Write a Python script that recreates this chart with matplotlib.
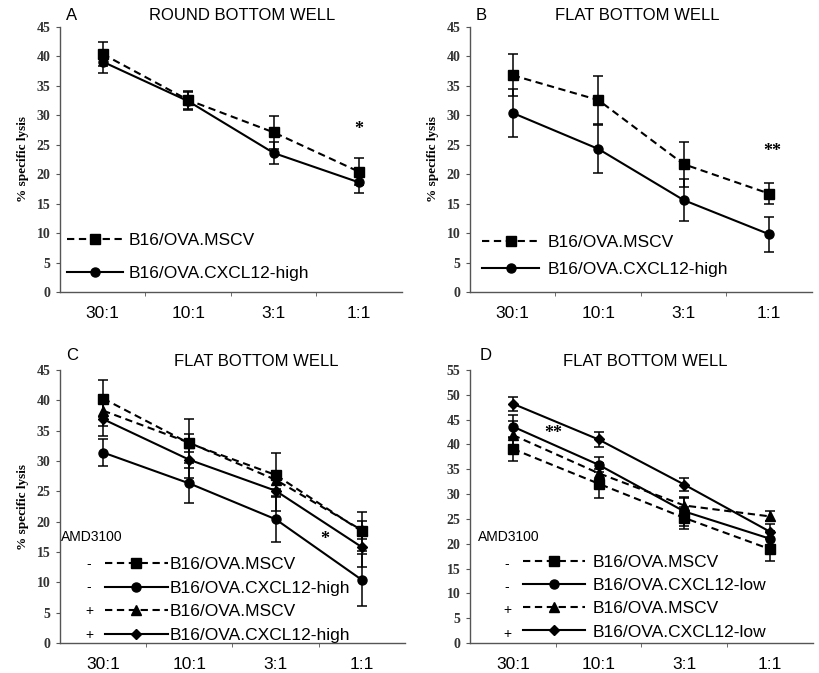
import matplotlib
matplotlib.use("Agg")
import matplotlib.pyplot as plt

W, H = 820, 673
plt.rcParams['font.family'] = ['Liberation Sans', 'DejaVu Sans']

ratios = ['30:1', '10:1', '3:1', '1:1']
xpos = [0.5, 1.5, 2.5, 3.5]

# panel A - round bottom well
a_mscv = [40.4, 32.6, 27.1, 20.4]
a_mscv_err = [2.1, 1.5, 2.8, 2.3]
a_high = [39.1, 32.4, 23.6, 18.6]
a_high_err = [1.9, 1.5, 1.8, 1.8]

# panel B - flat bottom well
b_mscv = [36.8, 32.6, 21.7, 16.7]
b_mscv_err = [3.6, 4.0, 3.8, 1.8]
b_high = [30.4, 24.3, 15.6, 9.8]
b_high_err = [4.0, 4.1, 3.6, 3.0]

# panel C - flat bottom well, AMD3100 -/+
c_mscv = [40.3, 32.9, 27.7, 18.4]
c_mscv_err = [3.1, 4.0, 3.7, 3.2]
c_high = [31.4, 26.3, 20.4, 10.4]
c_high_err = [2.3, 3.3, 3.8, 4.3]
c_mscv_amd = [38.3, 33.0, 26.9, 18.6]
c_mscv_amd_err = [2.5, 1.5, 1.5, 1.5]
c_high_amd = [36.9, 30.2, 25.1, 15.8]
c_high_amd_err = [2.8, 3.0, 3.3, 3.2]

# panel D - CXCL12-low, AMD3100 -/+
d_mscv = [39.1, 32.1, 25.2, 18.9]
d_mscv_err = [2.5, 2.9, 2.2, 2.3]
d_low = [43.6, 35.9, 26.5, 21.0]
d_low_err = [2.3, 1.5, 2.9, 1.5]
d_mscv_amd = [41.9, 34.2, 27.7, 25.5]
d_mscv_amd_err = [2.8, 2.0, 1.5, 1.0]
d_low_amd = [48.2, 41.0, 31.9, 22.4]
d_low_amd_err = [1.4, 1.5, 1.3, 1.5]


def frac(l, t, r, b):
    return [l / W, 1 - b / H, (r - l) / W, (b - t) / H]


def px(x, y):
    return x / W, 1 - y / H


DASH = (3.5, 2.2)
MARK = {'s': 7, 'o': 6.5, '^': 6.5, 'D': 5.5}


def series(ax, y, err, marker, dashed):
    ax.errorbar(xpos, y, yerr=err, fmt='none', ecolor='black',
                elinewidth=1.1, capsize=3.5, capthick=1.1, zorder=2)
    ln, = ax.plot(xpos, y, color='black', lw=1.5, marker=marker,
                  ms=MARK[marker], mfc='black', mec='black', zorder=3)
    if dashed:
        ln.set_dashes(DASH)
    return ln


def style(ax, ymax, ylabel=True):
    ax.set_xlim(0, 4)
    ax.set_ylim(0, ymax)
    for s in ['top', 'right']:
        ax.spines[s].set_visible(False)
    for s in ['left', 'bottom']:
        ax.spines[s].set_color('#555555')
        ax.spines[s].set_linewidth(1.0)
    ax.set_xticks(xpos)
    ax.set_xticklabels(ratios, fontsize=12.5)
    ax.set_xticks([1, 2, 3], minor=True)
    ax.tick_params(axis='x', which='major', length=0, pad=10)
    ax.tick_params(axis='x', which='minor', length=3, color='#555555')
    ax.set_yticks(range(0, ymax + 1, 5))
    ax.tick_params(axis='y', length=3, color='#555555', pad=4)
    for t in ax.get_yticklabels():
        t.set_fontfamily('Liberation Serif')
        t.set_fontsize(10)
        t.set_fontweight('bold')
        t.set_color('#333333')
    if ylabel:
        ax.set_ylabel('% specific lysis', fontfamily='Liberation Serif',
                      fontweight='bold', fontsize=9.5, labelpad=5)


def legend(ax, handles, labels, x, y, hl, spacing, pad):
    ax.legend(handles, labels, loc='upper left', bbox_to_anchor=px(x, y),
              bbox_transform=fig.transFigure, frameon=False, fontsize=12.5,
              handlelength=hl, handletextpad=pad, labelspacing=spacing,
              borderpad=0, borderaxespad=0, numpoints=1)


fig = plt.figure(figsize=(W / 100, H / 100), dpi=100)

# A
ax = fig.add_axes(frac(60, 27, 402, 292))
h1 = series(ax, a_mscv, a_mscv_err, 's', True)
h2 = series(ax, a_high, a_high_err, 'o', False)
style(ax, 45)
ax.text(3.5, 27.6, '*', ha='center', va='center', fontsize=13,
        fontfamily='Liberation Serif', fontweight='bold')
legend(ax, [h1, h2], ['B16/OVA.MSCV', 'B16/OVA.CXCL12-high'],
       67, 233, 3.2, 1.04, 0.35)
fig.text(*px(66, 15), 'A', fontsize=12, va='center')
fig.text(*px(242, 15), 'ROUND BOTTOM WELL', fontsize=12, ha='center', va='center')

# B
ax = fig.add_axes(frac(470, 27, 812, 292))
h1 = series(ax, b_mscv, b_mscv_err, 's', True)
h2 = series(ax, b_high, b_high_err, 'o', False)
style(ax, 45)
ax.text(3.53, 23.8, '**', ha='center', va='center', fontsize=13,
        fontfamily='Liberation Serif', fontweight='bold')
legend(ax, [h1, h2], ['B16/OVA.MSCV', 'B16/OVA.CXCL12-high'],
       482, 235, 3.3, 0.67, 0.5)
fig.text(*px(476, 15), 'B', fontsize=12, va='center')
fig.text(*px(637, 15), 'FLAT BOTTOM WELL', fontsize=12, ha='center', va='center')

# C
ax = fig.add_axes(frac(60, 370, 405, 643))
h1 = series(ax, c_mscv, c_mscv_err, 's', True)
h2 = series(ax, c_high, c_high_err, 'o', False)
h3 = series(ax, c_mscv_amd, c_mscv_amd_err, '^', True)
h4 = series(ax, c_high_amd, c_high_amd_err, 'D', False)
style(ax, 45)
ax.text(3.07, 17.0, '*', ha='center', va='center', fontsize=13,
        fontfamily='Liberation Serif', fontweight='bold')
legend(ax, [h1, h2, h3, h4],
       ['B16/OVA.MSCV', 'B16/OVA.CXCL12-high', 'B16/OVA.MSCV', 'B16/OVA.CXCL12-high'],
       105, 557, 3.6, 0.48, 0.1)
fig.text(*px(61, 537), 'AMD3100', fontsize=10, va='center')
for yy, sign in zip([564, 587, 611, 635], ['-', '-', '+', '+']):
    fig.text(*px(89, yy), sign, fontsize=10, ha='center', va='center')
fig.text(*px(66, 355), 'C', fontsize=12, va='center')
fig.text(*px(256, 362), 'FLAT BOTTOM WELL', fontsize=12, ha='center', va='center')

# D
ax = fig.add_axes(frac(470, 370, 813, 643))
h1 = series(ax, d_mscv, d_mscv_err, 's', True)
h2 = series(ax, d_low, d_low_err, 'o', False)
h3 = series(ax, d_mscv_amd, d_mscv_amd_err, '^', True)
h4 = series(ax, d_low_amd, d_low_amd_err, 'D', False)
style(ax, 55, ylabel=False)
ax.text(0.97, 42.3, '**', ha='center', va='center', fontsize=13,
        fontfamily='Liberation Serif', fontweight='bold')
legend(ax, [h1, h2, h3, h4],
       ['B16/OVA.MSCV', 'B16/OVA.CXCL12-low', 'B16/OVA.MSCV', 'B16/OVA.CXCL12-low'],
       523, 555, 3.6, 0.46, 0.4)
fig.text(*px(478, 537), 'AMD3100', fontsize=10, va='center')
for yy, sign in zip([564, 587, 610, 634], ['-', '-', '+', '+']):
    fig.text(*px(507, yy), sign, fontsize=10, ha='center', va='center')
fig.text(*px(480, 355), 'D', fontsize=12, va='center')
fig.text(*px(645, 362), 'FLAT BOTTOM WELL', fontsize=12, ha='center', va='center')

fig.savefig('out.png', dpi=100)
